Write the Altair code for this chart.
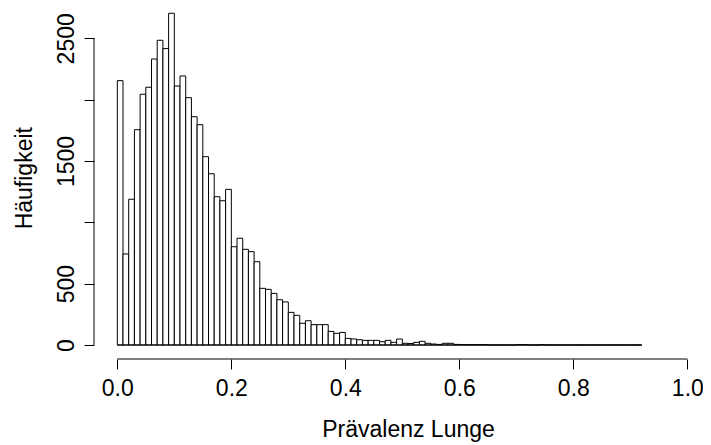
import altair as alt
import pandas as pd

# Histogram of "Prävalenz Lunge": bins of width 0.01 from 0.00 to 0.92
bin_width = 0.01
counts = [
    2155, 742, 1188, 1755, 2044, 2101, 2331, 2484, 2416, 2704,
    2111, 2193, 2016, 1861, 1796, 1535, 1396, 1209, 1176, 1269,
    801, 870, 780, 761, 679, 462, 454, 421, 369, 351,
    266, 242, 177, 198, 166, 166, 166, 111, 95, 103,
    54, 49, 43, 38, 38, 38, 27, 38, 22, 49,
    14, 12, 22, 30, 14, 8, 5, 14, 14, 5,
    3, 3, 3, 3, 3, 0, 0, 0, 0, 0,
    3, 3, 0, 0, 3, 0, 0, 0, 0, 0,
    0, 0, 0, 0, 0, 0, 0, 0, 0, 0,
    0, 0,
]
x_ticks = [0.0, 0.2, 0.4, 0.6, 0.8, 1.0]
y_ticks = [0, 500, 1000, 1500, 2000, 2500]
y_labelled = [0, 500, 1500, 2500]   # R drops the overlapping labels 1000 and 2000
x_title = "Prävalenz Lunge"
y_title = "Häufigkeit"

bins = pd.DataFrame({
    "lo": [round(i * bin_width, 2) for i in range(len(counts))],
    "hi": [round((i + 1) * bin_width, 2) for i in range(len(counts))],
    "n": counts,
})

FONT = "Liberation Sans"
FS = 23
x_dom = [-0.0409, 1.0187]
y_dom = [-114, 2747]

xs = alt.Scale(domain=x_dom, nice=False, zero=False)
ys = alt.Scale(domain=y_dom, nice=False, zero=False)

y_label_expr = "indexof([" + ",".join(str(v) for v in y_labelled) + "], datum.value) >= 0 ? datum.label : ''"

bars = alt.Chart(bins).mark_rect(
    fill="white", stroke="black", strokeWidth=1
).encode(
    x=alt.X("lo:Q", scale=xs,
            axis=alt.Axis(values=x_ticks, format=".1f", title=x_title,
                          domain=False, grid=False, tickSize=10, tickColor="black",
                          tickWidth=1, labelPadding=26, labelBaseline="alphabetic",
                          labelFont=FONT, labelFontSize=FS, labelColor="black",
                          labelFlush=False, labelOverlap=False,
                          titleFont=FONT, titleFontSize=FS, titleFontWeight="normal",
                          titleColor="black", titleX=314, titleY=77,
                          titleAlign="center", titleBaseline="alphabetic")),
    x2="hi:Q",
    y=alt.Y("n:Q", scale=ys,
            axis=alt.Axis(values=y_ticks, format="d", title=y_title,
                          labelExpr=y_label_expr,
                          domain=False, grid=False, tickSize=10, tickColor="black",
                          tickWidth=1, labelPadding=11, labelAngle=270,
                          labelAlign="center", labelBaseline="alphabetic",
                          labelFont=FONT, labelFontSize=FS, labelColor="black",
                          labelFlush=False, labelOverlap=False,
                          titleFont=FONT, titleFontSize=FS, titleFontWeight="normal",
                          titleColor="black", titleAngle=270, titleX=-62.7, titleY=169.7,
                          titleAlign="center", titleBaseline="alphabetic")),
    y2=alt.datum(0),
)

base_line = alt.Chart(pd.DataFrame({"a": [bins["lo"].min()], "b": [bins["hi"].max()], "y": [0]})).mark_rule(
    color="black", strokeWidth=1
).encode(x=alt.X("a:Q", scale=xs), x2="b:Q", y=alt.Y("y:Q", scale=ys))

x_axis_line = alt.Chart(pd.DataFrame({"a": [x_ticks[0]], "b": [x_ticks[-1]], "y": [y_dom[0]]})).mark_rule(
    color="black", strokeWidth=1
).encode(x=alt.X("a:Q", scale=xs), x2="b:Q", y=alt.Y("y:Q", scale=ys))

y_axis_line = alt.Chart(pd.DataFrame({"x": [x_dom[0]], "a": [y_ticks[0]], "b": [y_ticks[-1]]})).mark_rule(
    color="black", strokeWidth=1
).encode(x=alt.X("x:Q", scale=xs), y=alt.Y("a:Q", scale=ys), y2="b:Q")

chart = alt.layer(bars, base_line, x_axis_line, y_axis_line).properties(
    width=604, height=351,
    autosize=alt.AutoSizeParams(type="none"),
    padding={"left": 86, "top": 0, "right": 5, "bottom": 84},
    background="white",
).configure_view(stroke=None)

chart.save("out.html", embed_options={"renderer": "svg", "actions": False})
